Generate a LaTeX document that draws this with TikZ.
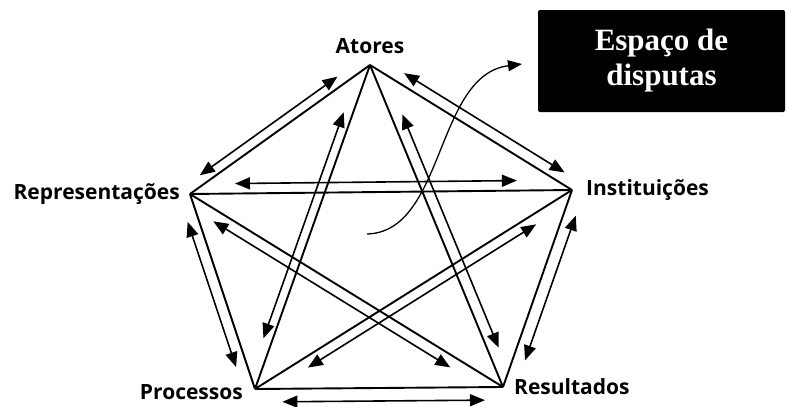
\documentclass[tikz,border=0pt]{standalone}
\usepackage{fontspec}
\setmainfont{Liberation Serif}
\newfontfamily\rotfont{Open Sans}
\usetikzlibrary{arrows.meta,calc,positioning}
\tikzset{
  rotulo/.style={font=\rotfont\bfseries\fontsize{21}{24}\selectfont,inner sep=0pt},
  lado/.style={line width=1.9pt},
  seta/.style={line width=1.6pt,{Triangle[length=15pt,width=12pt]}-{Triangle[length=15pt,width=12pt]}},
  curva/.style={line width=1.3pt,-{Triangle[length=14pt,width=11pt]}},
  caixa/.style={fill=black,text=white,font=\bfseries\fontsize{31}{35}\selectfont,align=center,
    minimum width=247pt,minimum height=102pt,rounded corners=2pt}
}
\begin{document}
\begin{tikzpicture}[x=1pt,y=-1pt]
\useasboundingbox (0,0) rectangle (788,407);
% vertices of the pentagon
\coordinate (at) at (370,65);
\coordinate (ins) at (572,190);
\coordinate (res) at (503,387);
\coordinate (pro) at (255,389);
\coordinate (rep) at (190,194);
\node[rotulo,anchor=south] (latores) at ($(at)+(0,-11)$) {Atores};
\node[rotulo,right=14pt of ins] (lins) {Instituições};
\node[rotulo,right=11pt of res] (lres) {Resultados};
\node[rotulo,left=12pt of pro,yshift=-3pt] (lpro) {Processos};
\node[rotulo,left=10pt of rep] (lrep) {Representações};
\foreach \a/\b in {at/ins,ins/res,res/pro,pro/rep,rep/at,at/res,at/pro,rep/ins,rep/res,pro/ins}
  \draw[lado] (\a) -- (\b);
\foreach \a/\b/\s/\e/\d/\g in {at/rep/0.15/0.085/9.5/-90, at/ins/0.14/0.065/11/90,
    rep/ins/0.118/0.144/10/90, at/pro/0.155/0.147/9/-90, at/res/0.166/0.109/11/90,
    rep/res/0.093/0.15/11/-90, pro/ins/0.15/0.13/10/-90, rep/pro/0.125/0.13/11/-90,
    ins/res/0.11/0.155/12/90, pro/res/0.11/0.073/13/-90}
  \draw[seta] ($(\a)!\s!(\b)!\d pt!\g:(\b)$) -- ($(\b)!\e!(\a)!\d pt!-\g:(\a)$);
\node[caixa] (esp) at (661.5,61) {Espaço de\\disputas};
\coordinate (meio) at (367,234);
\coordinate (ponta) at (522,64);
\draw[curva] (meio) .. controls (445,232) and (435,75) .. (ponta);
\end{tikzpicture}
\end{document}
